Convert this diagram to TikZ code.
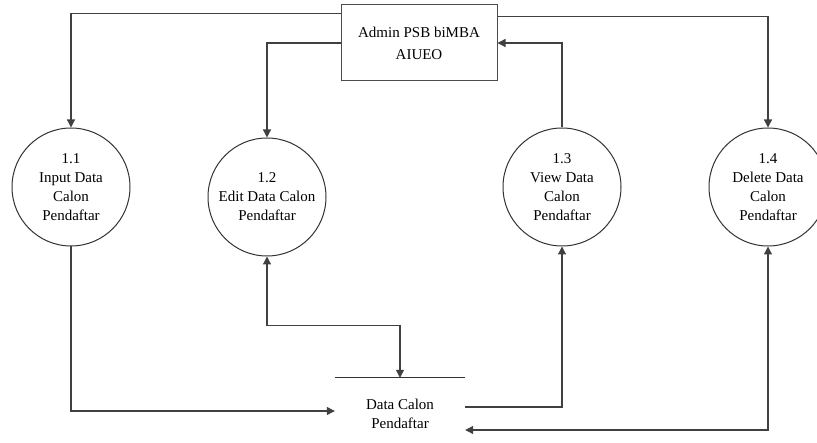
\documentclass[tikz,border=0pt]{standalone}
\usepackage{fontspec}
\setmainfont{Liberation Serif}
\usetikzlibrary{positioning, arrows.meta}

\begin{document}
\begin{tikzpicture}[
  x=1pt, y=-1pt,
  process/.style={circle, draw=black!80, line width=1pt, minimum size=118pt,
                  inner sep=0pt, align=center, font=\fontsize{15}{19}\selectfont},
  entity/.style={rectangle, draw=black!70, line width=1pt, minimum width=156pt,
                 minimum height=76pt, align=center, font=\fontsize{15}{22}\selectfont},
  store/.style={rectangle, minimum width=130pt, minimum height=72pt, inner sep=0pt,
                align=center, font=\fontsize{15}{19}\selectfont},
  flow/.style={draw=black!75, line width=1.2pt},
  >={Triangle[length=8pt,width=8pt]}
]
\useasboundingbox (0,0) rectangle (817,443);

\node[entity]  (admin) at (419,43)  {Admin PSB biMBA\\AIUEO};
\node[process] (p11)   at (71,187)  {1.1\\Input Data\\Calon\\Pendaftar};
\node[process] (p12)   at (267,197) {1.2\\Edit Data Calon\\Pendaftar};
\node[process] (p13)   at (562,187) {1.3\\View Data\\Calon\\Pendaftar};
\node[process] (p14)   at (768,187) {1.4\\Delete Data\\Calon\\Pendaftar};
\node[store]   (store) at (400,414) {Data Calon\\Pendaftar};
\draw[draw=black!80, line width=1.2pt] (store.north west) -- (store.north east);

% admin to processes
\draw[flow, ->] ([yshift=-9pt]admin.north west) -| (p11);
\draw[flow, ->] (admin.west) -| (p12);
\draw[flow, ->] (p13) |- (admin.east);
\draw[flow, ->] ([yshift=-12pt]admin.north east) -| (p14);

% processes and data store
\draw[flow, ->] (p11) |- ([yshift=3pt]store.west);
\draw[flow, <->] (p12.south) -- ++(0,69) -| (store.north);
\draw[flow, ->] ([yshift=7pt]store.east) -| (p13);
\draw[flow, <->] (p14) |- ([yshift=-16pt]store.east);
\end{tikzpicture}
\end{document}
